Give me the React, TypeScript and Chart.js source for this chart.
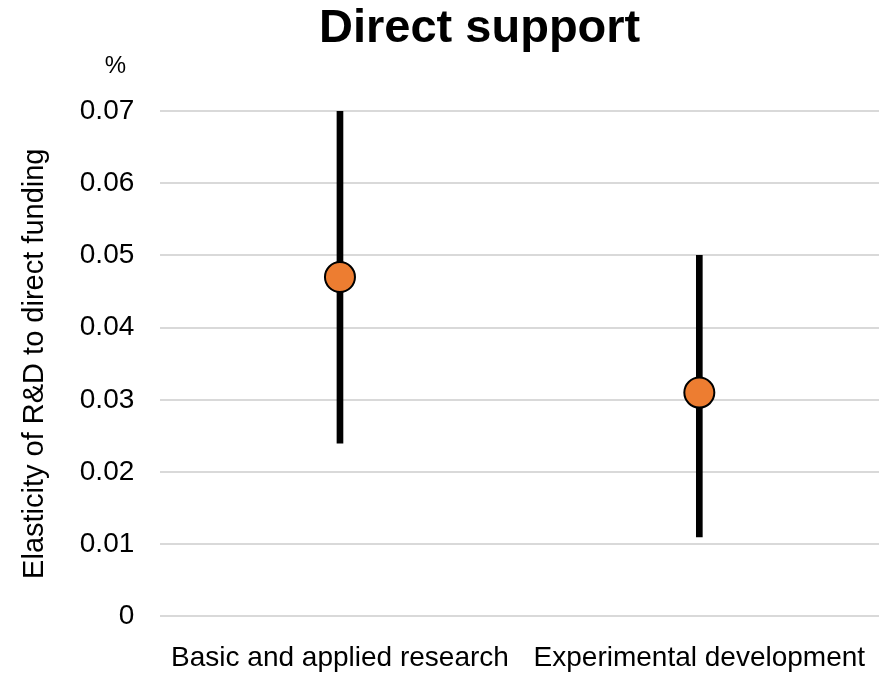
import React, { useEffect, useRef } from "react";
import { Chart, registerables } from "chart.js";

Chart.register(...registerables);

const categories = ["Basic and applied research", "Experimental development"];
const pointValues = [0.047, 0.031];
const lowValues = [0.024, 0.011];
const highValues = [0.07, 0.05];
const yTicks = [0, 0.01, 0.02, 0.03, 0.04, 0.05, 0.06, 0.07];
const titleText = "Direct support";
const unitText = "%";
const yAxisTitle = "Elasticity of R&D to direct funding";

const SANS = "'Liberation Sans', Arial, sans-serif";

const headerPlugin = {
  id: "header",
  afterDraw(chart: any) {
    const { ctx, chartArea } = chart;
    ctx.save();
    ctx.fillStyle = "#000";
    ctx.textAlign = "center";
    ctx.textBaseline = "middle";
    ctx.font = `bold 47px ${SANS}`;
    ctx.fillText(titleText, (chartArea.left + chartArea.right) / 2 - 40, 29);
    ctx.font = `24px ${SANS}`;
    ctx.fillText(unitText, chartArea.left - 45, 66);
    ctx.restore();
  },
};

export default function App() {
  const ref = useRef<HTMLCanvasElement | null>(null);
  useEffect(() => {
    document.body.style.margin = "0";
    const canvas = ref.current!;
    const chart = new Chart(canvas, {
      type: "bar",
      data: {
        labels: categories,
        datasets: [
          {
            type: "line",
            data: pointValues,
            showLine: false,
            pointRadius: 15,
            pointHoverRadius: 15,
            pointBackgroundColor: "#ED7D31",
            pointBorderColor: "#000",
            pointBorderWidth: 2,
            clip: false,
            order: 0,
          } as any,
          {
            type: "bar",
            data: lowValues.map((l, i) => [l, highValues[i]]),
            backgroundColor: "#000",
            borderWidth: 0,
            barThickness: 6,
            order: 1,
          } as any,
        ],
      },
      options: {
        animation: false,
        responsive: false,
        layout: { autoPadding: false, padding: { top: 111, left: 6, right: 0, bottom: 0 } },
        plugins: { legend: { display: false }, tooltip: { enabled: false }, title: { display: false } },
        scales: {
          x: {
            offset: true,
            grid: { display: false, drawTicks: true, tickLength: 23 },
            border: { display: false },
            afterFit: (scale: any) => {
              scale.paddingLeft = 0;
              scale.paddingRight = 0;
            },
            ticks: {
              color: "#000",
              font: { family: SANS, size: 28 },
              padding: 2,
              maxRotation: 0,
              autoSkip: false,
            },
          },
          y: {
            min: 0,
            max: 0.07,
            afterBuildTicks: (axis: any) => {
              axis.ticks = yTicks.map((v) => ({ value: v }));
            },
            grid: { color: "#d9d9d9", lineWidth: 2, drawTicks: false },
            border: { display: false },
            ticks: {
              color: "#000",
              font: { family: SANS, size: 28 },
              padding: 26,
              callback: (v: any) => (Number(v) === 0 ? "0" : Number(v).toFixed(2)),
            },
            title: {
              display: true,
              text: yAxisTitle,
              color: "#000",
              font: { family: SANS, size: 29 },
              padding: { top: 12, bottom: 1 },
            },
          },
        },
      },
      plugins: [headerPlugin],
    });
    return () => chart.destroy();
  }, []);
  return <canvas ref={ref} width={879} height={677} style={{ display: "block" }} />;
}
